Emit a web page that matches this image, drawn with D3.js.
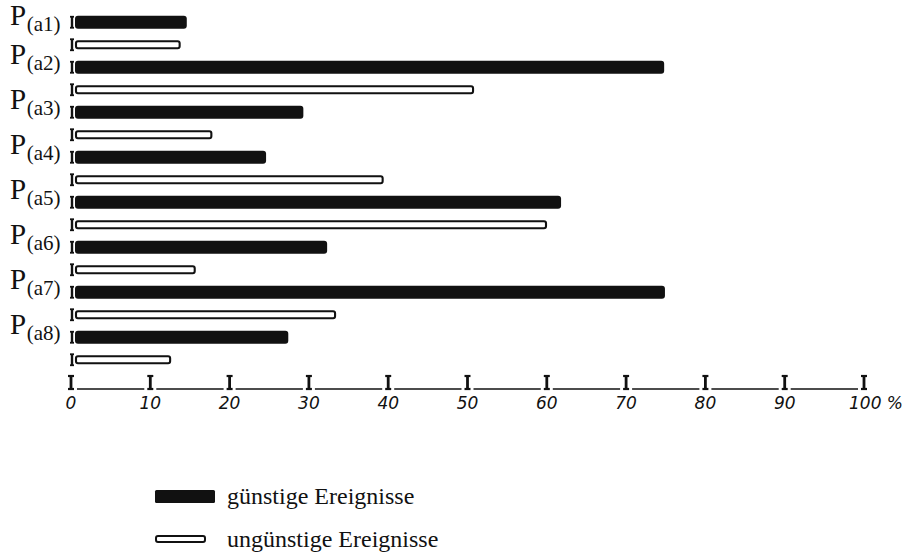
<!DOCTYPE html>
<html>
<head>
<meta charset="utf-8">
<script src="https://cdn.jsdelivr.net/npm/d3@7"></script>
<style>
  html, body { margin: 0; padding: 0; background: #fff; }
  svg { display: block; }
</style>
</head>
<body>
<svg id="chart" width="903" height="554"></svg>
<script>
// ---- data ----
const categories = ["a1", "a2", "a3", "a4", "a5", "a6", "a7", "a8"];
const favourable = [14.6, 74.8, 29.3, 24.6, 61.8, 32.3, 74.9, 27.4];   // günstige Ereignisse
const unfavourable = [13.7, 50.7, 17.7, 39.3, 59.9, 15.6, 33.3, 12.5]; // ungünstige Ereignisse
const tickValues = [0, 10, 20, 30, 40, 50, 60, 70, 80, 90, 100];
const tickLabels = ["0", "10", "20", "30", "40", "50", "60", "70", "80", "90", "100 %"];
const legendLabels = ["günstige Ereignisse", "ungünstige Ereignisse"];

// ---- layout ----
const svg = d3.select("#chart");
const ink = "#111";

const x = d3.scaleLinear().domain([0, 100]).range([71, 864]);

const rows = [];
categories.forEach((c, i) => {
  rows.push({ cat: c, type: "fav", value: favourable[i] });
  rows.push({ cat: c, type: "unfav", value: unfavourable[i] });
});
const y = d3.scaleBand()
  .domain(rows.map(r => r.cat + "-" + r.type))
  .range([11, 371]);
const yc = key => y(key) + y.bandwidth() / 2;

const barStart = x(0) + 4;

// small "I" markers at left of each bar
const markG = svg.append("g");
rows.forEach(r => {
  const cy = yc(r.cat + "-" + r.type);
  const mx = x(0) + 1;
  markG.append("line").attr("x1", mx).attr("x2", mx)
    .attr("y1", cy - 5.5).attr("y2", cy + 5.5)
    .attr("stroke", ink).attr("stroke-width", 2.4);
  [cy - 5.5, cy + 5.5].forEach(yy => {
    markG.append("line").attr("x1", mx - 2).attr("x2", mx + 2)
      .attr("y1", yy).attr("y2", yy).attr("stroke", ink).attr("stroke-width", 1.8);
  });
});

// bars
const barG = svg.append("g");
rows.forEach(r => {
  const cy = yc(r.cat + "-" + r.type);
  if (r.type === "fav") {
    barG.append("rect")
      .attr("x", barStart).attr("y", cy - 6.5)
      .attr("width", x(r.value) - barStart).attr("height", 13)
      .attr("rx", 3)
      .attr("fill", ink);
  } else {
    barG.append("rect")
      .attr("x", barStart + 1).attr("y", cy - 3.5)
      .attr("width", x(r.value) - barStart - 1).attr("height", 7)
      .attr("rx", 2)
      .attr("fill", "#fff").attr("stroke", ink).attr("stroke-width", 2.1);
  }
});

// category labels P(a_i)
const labG = svg.append("g").attr("font-family", "'Liberation Serif', 'Times New Roman', serif").attr("fill", ink);
categories.forEach(c => {
  const cy = yc(c + "-fav");
  const t = labG.append("text").attr("x", 10).attr("y", Math.max(cy - 3, 25));
  t.append("tspan").attr("font-size", 29).text("P");
  t.append("tspan").attr("font-size", 21).attr("dy", 6).attr("dx", 0.5).text("(" + c + ")");
});

// x axis: "I" ticks with connecting line
const axisY = 389;
const axG = svg.append("g");
tickValues.forEach((v, i) => {
  const tx = x(v);
  axG.append("line").attr("x1", tx).attr("x2", tx)
    .attr("y1", axisY - 13).attr("y2", axisY).attr("stroke", ink).attr("stroke-width", 2.8);
  [axisY - 13, axisY].forEach(yy => {
    axG.append("line").attr("x1", tx - 3).attr("x2", tx + 3)
      .attr("y1", yy).attr("y2", yy).attr("stroke", ink).attr("stroke-width", 2.2);
  });
  if (i < tickValues.length - 1) {
    axG.append("line").attr("x1", tx + 6).attr("x2", x(tickValues[i + 1]) - 6)
      .attr("y1", axisY).attr("y2", axisY).attr("stroke", ink).attr("stroke-width", 1.4);
  }
  axG.append("text")
    .attr("x", v === 100 ? tx - 15 : tx).attr("y", axisY + 20)
    .attr("text-anchor", v === 100 ? "start" : "middle")
    .attr("font-family", "'DejaVu Sans', sans-serif")
    .attr("font-style", "italic")
    .attr("font-size", 17)
    .attr("fill", ink)
    .text(tickLabels[i]);
});

// legend
const legG = svg.append("g");
legG.append("rect").attr("x", 155).attr("y", 490).attr("width", 60).attr("height", 13)
  .attr("rx", 1.5).attr("fill", ink);
legG.append("rect").attr("x", 156).attr("y", 536).attr("width", 49).attr("height", 6)
  .attr("rx", 2).attr("fill", "#fff").attr("stroke", ink).attr("stroke-width", 2);
legG.append("text").attr("x", 227).attr("y", 504)
  .attr("font-family", "'Liberation Serif', 'Times New Roman', serif")
  .attr("font-size", 24).attr("fill", ink).text(legendLabels[0]);
legG.append("text").attr("x", 227).attr("y", 547)
  .attr("font-family", "'Liberation Serif', 'Times New Roman', serif")
  .attr("font-size", 24).attr("fill", ink).text(legendLabels[1]);
</script>
</body>
</html>
